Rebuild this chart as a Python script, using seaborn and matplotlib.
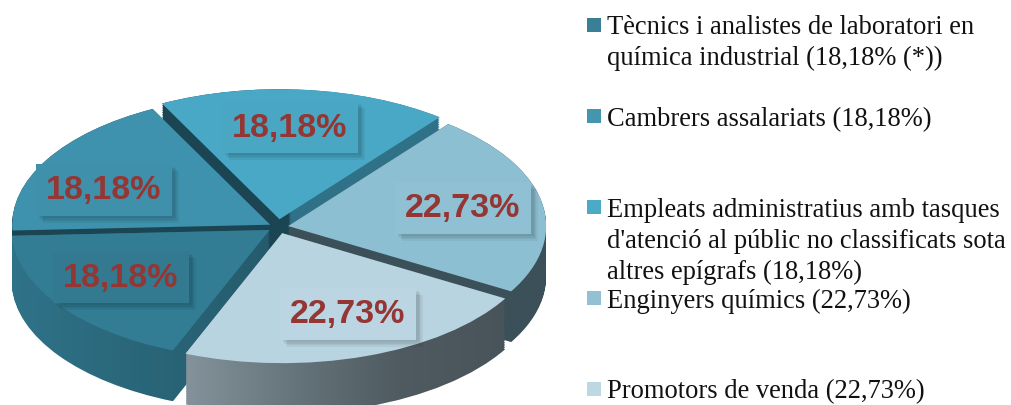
from __future__ import annotations

import matplotlib

matplotlib.use("Agg")

import matplotlib.patheffects as pe
import matplotlib.pyplot as plt
import numpy as np
import seaborn as sns
from matplotlib.patches import PathPatch, Rectangle
from matplotlib.path import Path

WIDTH, HEIGHT = 1011, 406

CATEGORIES = [
    "Tècnics i analistes",
    "Cambrers assalariats",
    "Empleats administratius",
    "Enginyers químics",
    "Promotors de venda",
]
VALUES = [18.18, 18.18, 18.18, 22.73, 22.73]
LEGEND_TEXT = [
    ["Tècnics i analistes de laboratori en", "química industrial (18,18% (*))"],
    ["Cambrers assalariats (18,18%)"],
    [
        "Empleats administratius amb tasques",
        "d'atenció al públic no classificats sota",
        "altres epígrafs (18,18%)",
    ],
    ["Enginyers químics (22,73%)"],
    ["Promotors de venda (22,73%)"],
]

TOP_COLORS = ["#327c94", "#3f92ad", "#49a8c5", "#8dbfd2", "#b8d4e0"]
SWATCH_COLORS = ["#3b7f96", "#4396ae", "#4daac6", "#93c1d3", "#bdd7e3"]
WALL_COLORS = [
    ["#2f7389", "#2a6679", "#255c6d"],
    ["#1c4553", "#1c4553"],
    ["#1c4553"] * 46 + ["#2f7288"] * 54,
    ["#3b5059", "#3b5059"],
    ["#84939b", "#66747b", "#4f5b61", "#48545a"],
]
DRAW_ORDER = [2, 1, 3, 0, 4]

EXPLODE = [0.04, 0.035, 0.06, 0.04, 0.05]
START_ANGLE = -112
CENTER_X, CENTER_Y = 278, 228
RADIUS_X, RADIUS_Y = 258, 130
DEPTH = 0.39

LABEL_POS = [(121, 278), (104, 191), (290, 128), (463, 209), (348, 315)]
LABEL_COLOR = "#943634"
LABEL_BOX = ["#337a91", "#3f91ab", "#4aa7c3", "#90c0d3", "#bbd6e2"]

SWATCH_TOP = [19, 110, 201, 292, 383]
BASELINES = [34, 126, 217, 308, 398]
LINE_STEP = 31


def px(x, y):
    return x / WIDTH, 1 - y / HEIGHT


def wall_paths(ax):
    # stack the pie downwards and keep one merged outline per slice
    pieces = [[] for _ in VALUES]
    for drop in np.linspace(0, DEPTH, 30):
        wedges, _ = ax.pie(
            VALUES,
            explode=EXPLODE,
            startangle=START_ANGLE,
            counterclock=False,
            center=(0, -drop),
        )
        for i, wedge in enumerate(wedges):
            pieces[i].append(wedge.get_path().deepcopy())
            wedge.remove()
    return [Path.make_compound_path(*p) for p in pieces]


def main() -> None:
    sns.set_theme(style="white")
    plt.rcParams["font.family"] = ["Liberation Serif"]

    fig = plt.figure(figsize=(WIDTH / 100, HEIGHT / 100), dpi=100)
    ax = fig.add_axes([0, 0, 1, 1])

    walls = wall_paths(ax)
    tops, _ = ax.pie(
        VALUES,
        explode=EXPLODE,
        startangle=START_ANGLE,
        counterclock=False,
        colors=TOP_COLORS,
        wedgeprops=dict(edgecolor="none", linewidth=0),
    )

    for rank, i in enumerate(DRAW_ORDER):
        box = walls[i].get_extents()
        cmap = sns.blend_palette(WALL_COLORS[i], n_colors=256, as_cmap=True)
        image = ax.imshow(
            np.linspace(0, 1, 256).reshape(1, -1),
            cmap=cmap,
            aspect="auto",
            extent=(box.x0, box.x1, box.y0, box.y1),
            zorder=2 * rank + 1,
        )
        image.set_clip_path(PathPatch(walls[i], transform=ax.transData))
        tops[i].set_zorder(2 * rank + 2)

    ax.set_aspect("auto")
    ax.set_xlim(-CENTER_X / RADIUS_X, (WIDTH - CENTER_X) / RADIUS_X)
    ax.set_ylim(-(HEIGHT - CENTER_Y) / RADIUS_Y, CENTER_Y / RADIUS_Y)
    ax.set_axis_off()

    for i, value in enumerate(VALUES):
        x, y = px(*LABEL_POS[i])
        text = ax.text(
            x,
            y,
            f"{value:.2f}".replace(".", ",") + "%",
            transform=fig.transFigure,
            ha="center",
            va="center",
            family="Liberation Sans",
            fontweight="bold",
            fontsize=24.5,
            color=LABEL_COLOR,
            zorder=30,
            bbox=dict(boxstyle="square,pad=0.3", fc=LABEL_BOX[i], ec="none"),
        )
        text.get_bbox_patch().set_path_effects(
            [
                pe.SimplePatchShadow(offset=(o, -o), shadow_rgbFace="black", alpha=0.05)
                for o in (5, 4, 3, 2)
            ]
            + [pe.Normal()]
        )

    for i, lines in enumerate(LEGEND_TEXT):
        sx, sy = px(587, SWATCH_TOP[i] + 14)
        fig.add_artist(
            Rectangle(
                (sx, sy),
                14 / WIDTH,
                14 / HEIGHT,
                transform=fig.transFigure,
                fc=SWATCH_COLORS[i],
                ec="none",
            )
        )
        for n, line in enumerate(lines):
            x, y = px(607, BASELINES[i] + n * LINE_STEP)
            fig.text(x, y, line, fontsize=19.1, color="#111111", va="baseline")

    fig.savefig("out.png", dpi=100)
    plt.close(fig)


if __name__ == "__main__":
    main()
